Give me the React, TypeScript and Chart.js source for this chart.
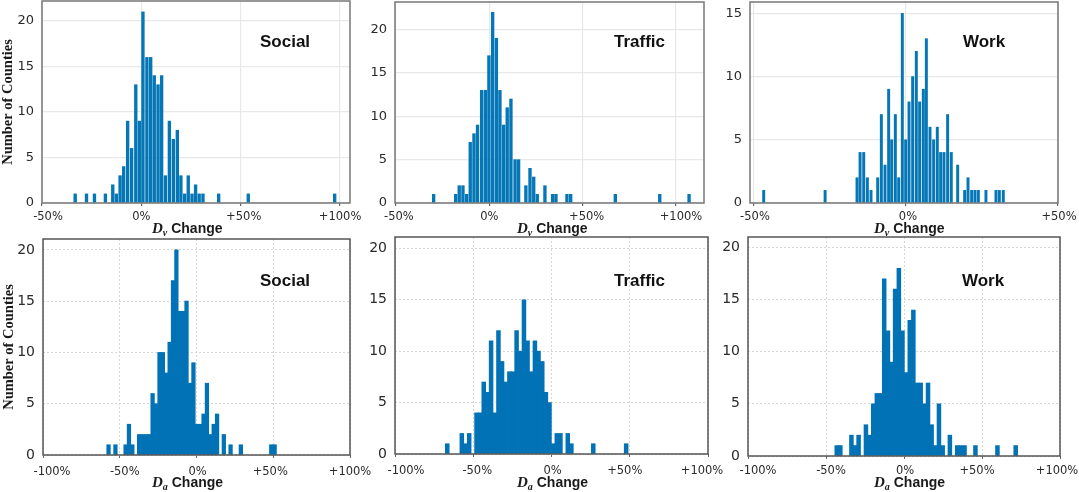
import React, { useEffect, useRef } from "react";
import { Chart, registerables } from "chart.js";

Chart.register(...registerables);

// bin centres (% change) and county counts
const socialVBins = [-33.3, -27.6, -23.6, -18.1, -14.4, -12.6, -10.7, -8.9, -6.9, -4.9, -2.8, -1.0, 0.8, 2.8, 4.7, 6.5, 8.4, 10.2, 12.1, 14.1, 16.1, 18.1, 19.9, 21.8, 23.6, 25.5, 27.3, 29.1, 31, 38.9, 53.8, 97.3];
const socialVCounts = [1, 1, 1, 1, 2, 1, 3, 4, 9, 6, 13, 9, 21, 16, 16, 14, 13, 14, 3, 9, 7, 8, 3, 1, 3, 1, 2, 1, 1, 1, 1, 1];

const trafficVBins = [-29.8, -18, -16.1, -14.1, -12.1, -10.2, -8.2, -6.3, -4.1, -2.1, -0.2, 1.8, 3.8, 5.7, 7.7, 9.6, 11.6, 13.8, 15.7, 19.6, 21.8, 23.8, 25.7, 29.8, 33.9, 35.7, 41.6, 43.6, 67.5, 91.3, 107];
const trafficVCounts = [1, 1, 2, 2, 1, 7, 8, 9, 13, 13, 17, 22, 19, 13, 9, 11, 12, 5, 5, 2, 4, 3, 1, 2, 1, 1, 1, 1, 1, 1, 1];

const workVBins = [-46.8, -26.6, -16.1, -15.1, -13.9, -12.7, -11.5, -9.3, -8.1, -6.9, -5.7, -4.7, -3.5, -2.4, -1.2, -0.1, 1.0, 2.2, 3.4, 4.5, 5.7, 6.7, 7.9, 9.1, 10.3, 11.4, 12.5, 13.7, 14.9, 17.0, 19.3, 20.4, 21.6, 22.7, 23.8, 26.3, 29.6, 30.7, 32];
const workVCounts = [1, 1, 2, 4, 4, 2, 1, 2, 7, 3, 9, 5, 7, 2, 15, 5, 8, 10, 12, 8, 9, 13, 6, 5, 6, 4, 4, 7, 4, 3, 1, 2, 1, 1, 1, 1, 1, 1, 1];

const socialABins = [-57.3, -52.8, -46.2, -44.0, -41.8, -37.4, -35.2, -33.0, -30.8, -28.6, -26.3, -24.1, -21.9, -19.7, -17.5, -15.3, -13.1, -10.9, -8.7, -6.5, -4.3, -2.0, 0.2, 2.4, 4.6, 6.8, 9.0, 11.2, 13.4, 17.8, 22.2, 28.9, 48.7, 50.9];
const socialACounts = [1, 1, 1, 3, 1, 2, 2, 2, 2, 6, 5, 10, 10, 8, 11, 17, 20, 14, 14, 15, 7, 9, 3, 3, 4, 7, 2, 3, 4, 2, 1, 1, 1, 1];

const trafficABins = [-66.6, -57.3, -55.0, -52.6, -47.9, -45.6, -43.3, -40.9, -38.6, -36.3, -33.9, -31.6, -29.3, -26.9, -24.6, -22.3, -19.9, -17.6, -15.3, -12.9, -10.6, -8.3, -5.9, -3.6, -1.3, 1.1, 3.4, 5.7, 10.4, 12.7, 26.7, 47.7];
const trafficACounts = [1, 2, 1, 2, 4, 4, 7, 6, 11, 4, 12, 9, 7, 8, 8, 12, 10, 15, 11, 8, 11, 10, 9, 6, 5, 1, 2, 2, 2, 1, 1, 1];

const workABins = [-43.1, -40.8, -33.7, -31.4, -29.1, -24.4, -22.0, -19.7, -17.4, -15.0, -12.7, -10.3, -8.0, -5.7, -3.3, -1.0, 1.4, 3.7, 6.0, 8.4, 10.7, 13.1, 15.4, 17.7, 20.1, 22.4, 24.8, 29.4, 34.1, 36.5, 38.8, 45.8, 59.9, 71.6];
const workACounts = [1, 1, 2, 1, 2, 3, 2, 5, 6, 6, 17, 12, 9, 16, 18, 12, 8, 13, 14, 7, 7, 5, 7, 3, 1, 5, 1, 2, 1, 1, 1, 1, 1, 1];

const ticksV = [-50, 0, 50, 100];
const ticksWorkV = [-50, 0, 50];
const ticksA = [-100, -50, 0, 50, 100];

// canvas margins around the plot box
const MARGIN_LEFT = 42;
const MARGIN_RIGHT = 28;
const MARGIN_TOP = 2;
const MARGIN_BOTTOM = 36;

const percentTick = (value: any) =>
  value > 0 ? `+${value}%` : `${value}%`;

const framePlugin = {
  id: "frame",
  // the figure's x labels sit off their ticks, nudge them sideways
  beforeDraw(chart: any, _args: any, opts: any) {
    chart.scales.x.getLabelItems().forEach((item: any, i: number) => {
      item.options.translation[0] += opts.labelShift[i] || 0;
    });
  },
  // four sided frame round the plot
  afterDraw(chart: any, _args: any, opts: any) {
    const { left, top, width, height } = chart.chartArea;
    const ctx = chart.ctx;
    ctx.save();
    ctx.strokeStyle = opts.color;
    ctx.lineWidth = 1.5;
    ctx.strokeRect(left, top, width, height);
    ctx.restore();
  },
};

interface PanelProps {
  bins: number[];
  counts: number[];
  box: number[]; // plot left, top, right, bottom in page pixels
  xMin: number;
  xMax: number;
  yMax: number;
  xTicks: number[];
  labelShift: number[];
  labelGap: number;
  barWidth: number;
  lowerRow?: boolean;
  yTitle?: boolean;
}

const Panel: React.FC<PanelProps> = ({
  bins,
  counts,
  box,
  xMin,
  xMax,
  yMax,
  xTicks,
  labelShift,
  labelGap,
  barWidth,
  lowerRow,
  yTitle,
}) => {
  const ref = useRef<HTMLCanvasElement | null>(null);

  useEffect(() => {
    const ctx = ref.current?.getContext("2d");
    if (!ctx) return;

    const gridColor = lowerRow ? "#d6d6d6" : "#e8e8e8";

    const chart = new Chart(ctx, {
      type: "bar",
      data: {
        datasets: [
          {
            data: bins.map((b, i) => ({ x: b, y: counts[i] })),
            backgroundColor: lowerRow ? "#0072b5" : "#0576b6",
            barThickness: barWidth,
          },
        ],
      },
      options: {
        responsive: false,
        animation: false,
        layout: {
          autoPadding: false,
          padding: { left: 0, right: MARGIN_RIGHT, top: MARGIN_TOP, bottom: 0 },
        },
        plugins: {
          legend: { display: false },
          tooltip: { enabled: false },
          title: { display: false },
          frame: { color: lowerRow ? "#555555" : "#777777", labelShift },
        },
        scales: {
          x: {
            type: "linear",
            offset: false,
            min: xMin,
            max: xMax,
            afterBuildTicks: (scale: any) => {
              scale.ticks = xTicks.map((v) => ({ value: v }));
            },
            afterFit: (scale: any) => {
              scale.height = MARGIN_BOTTOM;
              scale.paddingLeft = 0;
              scale.paddingRight = 0;
            },
            grid: {
              offset: false,
              color: gridColor,
              lineWidth: lowerRow ? 1 : 1.2,
              tickColor: "#666666",
              tickLength: 3,
            },
            border: { display: false, dash: lowerRow ? [2, 2] : [] },
            ticks: {
              maxRotation: 0,
              autoSkip: false,
              color: "#2a2a2a",
              padding: labelGap,
              font: { family: "DejaVu Sans", size: 11.5 },
              callback: percentTick,
            },
          },
          y: {
            min: 0,
            max: yMax,
            afterFit: (scale: any) => {
              scale.width = MARGIN_LEFT;
              scale.paddingTop = 0;
              scale.paddingBottom = 0;
            },
            grid: {
              color: gridColor,
              lineWidth: lowerRow ? 1 : 1.2,
              drawTicks: false,
            },
            border: { display: false, dash: lowerRow ? [2, 2] : [] },
            title: {
              display: !!yTitle,
              text: "Number of Counties",
              color: "#1a1a1a",
              padding: 0,
              font: { family: "Liberation Serif", size: 14.5, weight: "bold" },
            },
            ticks: {
              stepSize: 5,
              includeBounds: false,
              color: "#2a2a2a",
              padding: 8,
              font: { family: "DejaVu Sans", size: lowerRow ? 14 : 13 },
            },
          },
        },
      },
      plugins: [framePlugin],
    } as any);

    return () => {
      chart.destroy();
    };
  }, [bins, counts, box, xMin, xMax, yMax, xTicks, labelShift, labelGap, barWidth, lowerRow, yTitle]);

  const [left, top, right, bottom] = box;
  return (
    <canvas
      ref={ref}
      width={right - left + MARGIN_LEFT + MARGIN_RIGHT}
      height={bottom - top + MARGIN_TOP + MARGIN_BOTTOM}
      style={{
        position: "absolute",
        left: left - MARGIN_LEFT,
        top: top - MARGIN_TOP,
      }}
    />
  );
};

const PanelName = ({ x, y, text }: { x: number; y: number; text: string }) => (
  <div
    style={{
      position: "absolute",
      left: x,
      top: y - 11,
      lineHeight: "22px",
      font: 'bold 17px "Liberation Sans"',
      color: "#111",
    }}
  >
    {text}
  </div>
);

const AxisName = ({ x, y, sub }: { x: number; y: number; sub: string }) => (
  <div
    style={{
      position: "absolute",
      left: x,
      top: y - 10,
      height: 20,
      lineHeight: "20px",
      whiteSpace: "nowrap",
      fontFamily: '"Liberation Sans"',
      fontWeight: "bold",
      fontSize: 14,
      color: "#1a1a1a",
    }}
  >
    <span style={{ fontFamily: '"Liberation Serif"', fontStyle: "italic", fontSize: 15 }}>
      D
      <span style={{ fontSize: 10, position: "relative", top: 3 }}>{sub}</span>
    </span>{" "}
    Change
  </div>
);

const shiftSocialV = [6, 0, 3, 0];
const shiftTrafficV = [3, 0, 4, 5];
const shiftWorkV = [1, 2, 1];
const shiftSocialA = [9, 5, 1, -3, 0];
const shiftTrafficA = [11, 4, 1, -5, -6];
const shiftWorkA = [10, 5, 1, -5, -3];

export default function App() {
  return (
    <div
      style={{
        position: "absolute",
        left: 0,
        top: 0,
        width: 1079,
        height: 492,
        overflow: "hidden",
        background: "#fff",
      }}
    >
      <Panel bins={socialVBins} counts={socialVCounts} box={[42, 1, 350, 203]} xMin={-50} xMax={105} yMax={22.2} xTicks={ticksV} labelShift={shiftSocialV} labelGap={4} barWidth={2.7} yTitle />
      <Panel bins={trafficVBins} counts={trafficVCounts} box={[395, 2, 704, 203]} xMin={-50.5} xMax={115} yMax={23.2} xTicks={ticksV} labelShift={shiftTrafficV} labelGap={4} barWidth={2.7} />
      <Panel bins={workVBins} counts={workVCounts} box={[750, 2, 1058, 203]} xMin={-51.3} xMax={50} yMax={15.9} xTicks={ticksWorkV} labelShift={shiftWorkV} labelGap={4} barWidth={2.3} />
      <Panel bins={socialABins} counts={socialACounts} box={[43, 239, 350, 455]} xMin={-100} xMax={100} yMax={21.06} xTicks={ticksA} labelShift={shiftSocialA} labelGap={7} barWidth={3.6} lowerRow yTitle />
      <Panel bins={trafficABins} counts={trafficACounts} box={[395, 237, 708, 454]} xMin={-100} xMax={100} yMax={21.1} xTicks={ticksA} labelShift={shiftTrafficA} labelGap={7} barWidth={3.85} lowerRow />
      <Panel bins={workABins} counts={workACounts} box={[748, 237, 1060, 456]} xMin={-100} xMax={100} yMax={21.0} xTicks={ticksA} labelShift={shiftWorkA} labelGap={5} barWidth={3.85} lowerRow />

      <PanelName x={260} y={43} text="Social" />
      <PanelName x={614} y={43} text="Traffic" />
      <PanelName x={963} y={43} text="Work" />
      <PanelName x={260} y={282} text="Social" />
      <PanelName x={614} y={282} text="Traffic" />
      <PanelName x={962} y={282} text="Work" />

      <AxisName x={152} y={228} sub="v" />
      <AxisName x={517} y={228} sub="v" />
      <AxisName x={874} y={228} sub="v" />
      <AxisName x={152} y={482} sub="a" />
      <AxisName x={517} y={482} sub="a" />
      <AxisName x={874} y={482} sub="a" />
    </div>
  );
}
